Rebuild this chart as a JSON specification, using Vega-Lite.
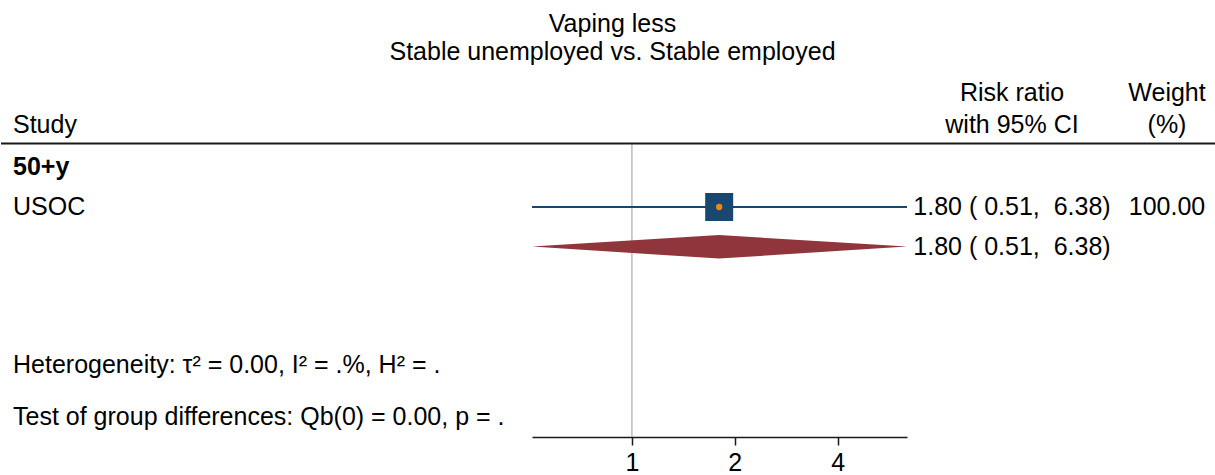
{
  "$schema": "https://vega.github.io/schema/vega-lite/v6.json",
  "padding": {"top": 12, "left": 0, "right": 0, "bottom": 0},
  "background": "white",
  "config": {
    "view": {"stroke": null},
    "font": "Liberation Sans",
    "text": {"font": "Liberation Sans", "fontSize": 25, "color": "black"}
  },
  "title": {
    "text": ["Vaping less", "Stable unemployed vs. Stable employed"],
    "anchor": "middle",
    "font": "Liberation Sans",
    "fontSize": 25,
    "fontWeight": "normal",
    "lineHeight": 27.5,
    "offset": 10.5,
    "dx": 4,
    "color": "black"
  },
  "datasets": {
    "lefttext": [
      {"col": "Study", "label": "Study", "row": -2.04, "kind": "normal"},
      {"col": "Study", "label": "50+y", "row": -1.0, "kind": "bold"},
      {"col": "Study", "label": "USOC", "row": 0, "kind": "normal"},
      {"col": "Study", "label": "Heterogeneity: τ² = 0.00, I² = .%, H² = .", "row": 3.95, "kind": "normal"},
      {"col": "Study", "label": "Test of group differences: Qb(0) = 0.00, p = .", "row": 5.25, "kind": "normal"}
    ],
    "righttext": [
      {"col": "rr", "label": "Risk ratio", "row": -2.84},
      {"col": "wt", "label": "Weight", "row": -2.84},
      {"col": "rr", "label": "with 95% CI", "row": -2.04},
      {"col": "wt", "label": "(%)", "row": -2.04},
      {"col": "rr", "label": "1.80 ( 0.51,\u00a0 6.38)", "row": 0},
      {"col": "wt", "label": "100.00", "row": 0},
      {"col": "rr", "label": "1.80 ( 0.51,\u00a0 6.38)", "row": 1.0}
    ],
    "study": [
      {"study": "USOC", "rr": 1.80, "lo": 0.51, "hi": 6.38, "row": 0, "weight": 100}
    ],
    "diamond": [
      {"rr": 0.51, "top": 0.99, "bottom": 0.99},
      {"rr": 1.80, "top": 0.70, "bottom": 1.29},
      {"rr": 6.38, "top": 0.99, "bottom": 0.99}
    ],
    "header": [{"row": -1.59}],
    "ref": [{"x": 1, "from": -1.57, "to": 5.75}]
  },
  "spacing": 0,
  "bounds": "flush",
  "hconcat": [
    {
      "width": 531,
      "height": 362,
      "layer": [
        {
          "data": {"name": "header"},
          "mark": {"type": "rule", "color": "#1a1a1a", "strokeWidth": 2},
          "encoding": {
            "y": {"field": "row", "type": "quantitative", "axis": null,
                  "scale": {"domain": [-3.3, 5.75], "reverse": true, "nice": false, "zero": false}}
          }
        },
        {
          "data": {"name": "lefttext"},
          "transform": [{"filter": "datum.kind === 'normal'"}],
          "mark": {"type": "text", "align": "left", "baseline": "middle", "fontSize": 25},
          "encoding": {
            "x": {"field": "col", "type": "nominal", "axis": null,
                  "scale": {"type": "point", "domain": ["Study"], "range": [12, 531], "padding": 0, "align": 0}},
            "y": {"field": "row", "type": "quantitative", "axis": null,
                  "scale": {"domain": [-3.3, 5.75], "reverse": true, "nice": false, "zero": false}},
            "text": {"field": "label"}
          }
        },
        {
          "data": {"name": "lefttext"},
          "transform": [{"filter": "datum.kind === 'bold'"}],
          "mark": {"type": "text", "align": "left", "baseline": "middle", "fontSize": 25, "fontWeight": "bold"},
          "encoding": {
            "x": {"field": "col", "type": "nominal", "axis": null},
            "y": {"field": "row", "type": "quantitative", "axis": null},
            "text": {"field": "label"}
          }
        }
      ]
    },
    {
      "width": 375,
      "height": 362,
      "layer": [
        {
          "data": {"name": "ref"},
          "mark": {"type": "rule", "color": "#9a9a9a", "strokeWidth": 1},
          "encoding": {
            "x": {"field": "x", "type": "quantitative",
                  "scale": {"type": "log", "domain": [0.51, 6.38], "nice": false, "zero": false},
                  "axis": {"values": [1, 2, 4], "format": "~g", "title": null, "grid": false,
                           "domainColor": "#1a1a1a", "domainWidth": 1.5, "tickColor": "#1a1a1a",
                           "tickWidth": 1.5, "tickSize": 8, "labelFontSize": 25, "labelColor": "black",
                           "labelFont": "Liberation Sans", "labelPadding": 5, "labelFlush": false}},
            "y": {"field": "from", "type": "quantitative", "axis": null,
                  "scale": {"domain": [-3.3, 5.75], "reverse": true, "nice": false, "zero": false}},
            "y2": {"field": "to"}
          }
        },
        {
          "data": {"name": "header"},
          "mark": {"type": "rule", "color": "#1a1a1a", "strokeWidth": 2},
          "encoding": {
            "y": {"field": "row", "type": "quantitative", "axis": null}
          }
        },
        {
          "data": {"name": "study"},
          "mark": {"type": "rule", "color": "#1a476f", "strokeWidth": 2},
          "encoding": {
            "x": {"field": "lo", "type": "quantitative"},
            "x2": {"field": "hi"},
            "y": {"field": "row", "type": "quantitative"}
          }
        },
        {
          "data": {"name": "diamond"},
          "mark": {"type": "area", "color": "#90353b", "opacity": 1},
          "encoding": {
            "x": {"field": "rr", "type": "quantitative"},
            "y": {"field": "top", "type": "quantitative"},
            "y2": {"field": "bottom"}
          }
        },
        {
          "data": {"name": "study"},
          "mark": {"type": "point", "shape": "square", "filled": true, "size": 784, "color": "#1a476f", "opacity": 1},
          "encoding": {
            "x": {"field": "rr", "type": "quantitative"},
            "y": {"field": "row", "type": "quantitative"}
          }
        },
        {
          "data": {"name": "study"},
          "mark": {"type": "point", "shape": "circle", "filled": true, "size": 40, "color": "#ea8a0e", "opacity": 1},
          "encoding": {
            "x": {"field": "rr", "type": "quantitative"},
            "y": {"field": "row", "type": "quantitative"}
          }
        }
      ]
    },
    {
      "width": 309,
      "height": 362,
      "layer": [
        {
          "data": {"name": "header"},
          "mark": {"type": "rule", "color": "#1a1a1a", "strokeWidth": 2},
          "encoding": {
            "y": {"field": "row", "type": "quantitative", "axis": null,
                  "scale": {"domain": [-3.3, 5.75], "reverse": true, "nice": false, "zero": false}}
          }
        },
        {
          "data": {"name": "righttext"},
          "mark": {"type": "text", "align": "center", "baseline": "middle", "fontSize": 25},
          "encoding": {
            "x": {"field": "col", "type": "nominal", "axis": null,
                  "scale": {"type": "point", "domain": ["rr", "wt"], "range": [105, 260], "padding": 0}},
            "y": {"field": "row", "type": "quantitative", "axis": null},
            "text": {"field": "label"}
          }
        }
      ]
    }
  ]
}
